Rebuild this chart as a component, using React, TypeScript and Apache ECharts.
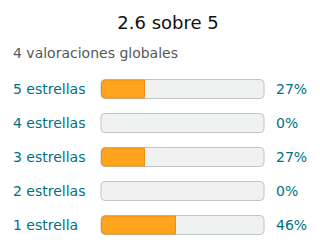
import React, { useEffect, useRef } from "react";
import * as echarts from "echarts";

const titleText = "2.6 sobre 5";
const subtitleText = "4 valoraciones globales";
const categories = ["5 estrellas", "4 estrellas", "3 estrellas", "2 estrellas", "1 estrella"];
const values = [27, 0, 27, 0, 46];
const percentLabels = ["27%", "0%", "27%", "0%", "46%"];

const FONT = "DejaVu Sans";

export default function App() {
  const ref = useRef<HTMLDivElement>(null);
  useEffect(() => {
    if (!ref.current) return;
    const chart = echarts.init(ref.current, null, { renderer: "svg" });
    chart.setOption({
      animation: false,
      backgroundColor: "#ffffff",
      graphic: [
        {
          type: "text",
          x: 168,
          y: 22,
          style: {
            text: titleText,
            fontFamily: FONT,
            fontSize: 18,
            fill: "#0F1111",
            align: "center",
            verticalAlign: "middle",
          },
        },
        {
          type: "text",
          x: 13,
          y: 53,
          style: {
            text: subtitleText,
            fontFamily: FONT,
            fontSize: 14,
            fill: "#565959",
            align: "left",
            verticalAlign: "middle",
          },
        },
      ],
      grid: { left: 101, right: 56, top: 72, height: 170 },
      xAxis: { type: "value", min: 0, max: 100, show: false },
      yAxis: [
        {
          type: "category",
          data: categories,
          inverse: true,
          position: "left",
          axisLine: { show: false },
          axisTick: { show: false },
          axisLabel: {
            margin: 88,
            align: "left",
            fontFamily: FONT,
            fontSize: 14,
            color: "#007185",
          },
        },
        {
          type: "category",
          data: percentLabels,
          inverse: true,
          position: "right",
          axisLine: { show: false },
          axisTick: { show: false },
          axisLabel: {
            margin: 12,
            align: "left",
            fontFamily: FONT,
            fontSize: 14,
            color: "#007185",
          },
        },
      ],
      series: [
        {
          type: "bar",
          yAxisIndex: 0,
          barWidth: 19,
          showBackground: true,
          backgroundStyle: {
            color: "#F0F2F2",
            borderColor: "#C0C4C4",
            borderWidth: 1,
            borderRadius: 4,
          },
          itemStyle: {
            color: "#FFA41C",
            borderColor: "#E8901A",
            borderWidth: 1,
            borderRadius: [4, 0, 0, 4],
          },
          data: values.map((v) =>
            v === 0 ? { value: v, itemStyle: { borderWidth: 0, opacity: 0 } } : v
          ),
        },
      ],
    });
    return () => chart.dispose();
  }, []);
  return (
    <div
      ref={ref}
      style={{ position: "absolute", left: 0, top: 0, width: 320, height: 252 }}
    />
  );
}
